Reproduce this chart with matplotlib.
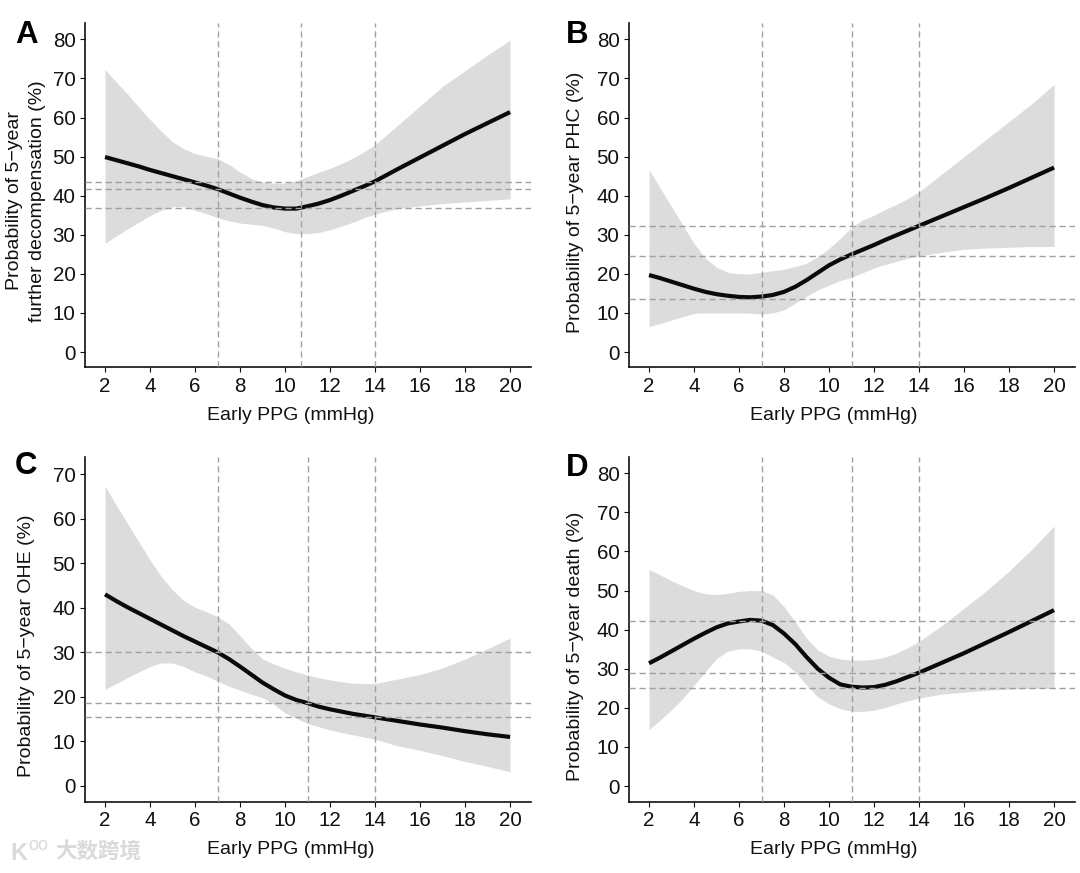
import matplotlib
matplotlib.use("Agg")
import matplotlib.pyplot as plt

plt.rcParams['font.family'] = ['Liberation Sans', 'DejaVu Sans']

x = [2, 2.5, 3, 3.5, 4, 4.5, 5, 5.5, 6, 6.5, 7, 7.5, 8, 8.5, 9, 9.5, 10, 10.5, 11, 11.5, 12, 12.5, 13, 13.5, 14,
     15, 16, 17, 18, 19, 20]
x_ticks = [2, 4, 6, 8, 10, 12, 14, 16, 18, 20]

a_line = [49.9, 49.1, 48.3, 47.5, 46.6, 45.8, 45, 44.2, 43.4, 42.6, 41.7, 40.6, 39.5, 38.5, 37.6, 37, 36.7, 36.7, 37.3, 38, 38.9, 40, 41.2, 42.4, 43.7,
          46.8, 49.8, 52.8, 55.8, 58.6, 61.4]
a_up = [72.3, 69.1, 66, 62.7, 59.5, 56.5, 53.8, 52, 50.8, 50.1, 49.5, 48, 46.1, 44.4, 43.5, 43.2, 43.2, 43.8, 44.9, 46, 47, 48.2, 49.6, 51.2, 53,
        58, 63, 68, 72, 76, 79.8]
a_lo = [27.8, 29.7, 31.5, 33.2, 34.9, 36.3, 37.2, 37.2, 36.3, 35.4, 34.4, 33.6, 33, 32.7, 32.4, 31.7, 30.8, 30.3, 30.3, 30.6, 31.3, 32.2, 33.2, 34.3, 35.3,
        36.7, 37.4, 38, 38.4, 38.8, 39.2]
a_v = [7, 10.7, 14]
a_h = [43.5, 41.8, 36.9]

b_line = [19.7, 18.9, 18, 17.1, 16.2, 15.4, 14.8, 14.4, 14.1, 14, 14.2, 14.6, 15.4, 16.7, 18.4, 20.3, 22.2, 23.7, 25, 26.2, 27.4, 28.7, 29.9, 31.1, 32.3,
          34.7, 37.1, 39.5, 42, 44.6, 47.2]
b_up = [46.7, 41.9, 37.2, 32.5, 27.8, 24, 21.7, 20.4, 20, 20, 20.4, 20.8, 21.2, 21.9, 22.7, 24.4, 26.5, 29.1, 31.9, 33.8, 35, 36.5, 37.8, 39.3, 41,
        45.5, 50, 54.5, 59, 63.5, 68.5]
b_lo = [6.5, 7.3, 8.2, 9, 9.9, 10, 10, 10, 10, 9.9, 9.7, 10, 10.8, 12.5, 14.3, 15.9, 17.1, 18.3, 19.1, 20.3, 21.5, 22.4, 23.2, 24, 24.6,
        25.5, 26.3, 26.6, 26.8, 27, 27]
b_v = [7, 11, 14]
b_h = [32.3, 24.7, 13.6]

c_line = [43, 41.5, 40.1, 38.8, 37.5, 36.2, 34.9, 33.6, 32.4, 31.2, 30, 28.5, 26.8, 25, 23.2, 21.7, 20.3, 19.3, 18.6, 17.8, 17.2, 16.7, 16.2, 15.8, 15.4,
          14.6, 13.8, 13.1, 12.3, 11.6, 11]
c_up = [67.3, 63, 58.9, 54.8, 50.7, 47, 44, 41.6, 40.1, 39.1, 38, 36.4, 33.7, 30.9, 28.5, 27.4, 26.4, 25.6, 24.9, 24.3, 23.8, 23.4, 23.1, 23, 23,
        24, 25, 26.5, 28.5, 30.8, 33.2]
c_lo = [21.7, 23, 24.3, 25.6, 26.8, 27.6, 27.6, 26.8, 25.6, 24.7, 23.5, 22.4, 21.5, 20.6, 19.8, 18.3, 16.4, 15.2, 14, 13.3, 12.6, 12, 11.5, 11, 10.5,
        9, 8, 6.8, 5.5, 4.4, 3.2]
c_v = [7, 11, 14]
c_h = [30.1, 18.7, 15.5]

d_line = [31.4, 32.9, 34.5, 36.1, 37.7, 39.2, 40.6, 41.6, 42.1, 42.5, 42.3, 41.2, 39, 36.3, 33, 30, 27.7, 26, 25.4, 25.2, 25.3, 25.9, 26.8, 27.9, 29,
          31.5, 34, 36.7, 39.4, 42.2, 45]
d_up = [55.4, 54, 52.5, 51.2, 50, 49.2, 49, 49.3, 49.8, 50, 50, 48.9, 45.9, 42, 37.8, 34.8, 33.2, 32.5, 32.2, 32.2, 32.4, 33, 34, 35.4, 37,
        41, 45.5, 50, 55, 60.5, 66.5]
d_lo = [14.4, 16.9, 19.5, 22.4, 25.8, 29.2, 32.6, 34.5, 35.1, 35.1, 34.5, 33, 31.6, 29.2, 25.8, 22.8, 21, 19.8, 19.1, 19.1, 19.4, 20.1, 21, 21.8, 22.5,
        23.5, 24, 24.5, 24.8, 25, 25]
d_v = [7, 11, 14]
d_h = [42.2, 29, 25]

W, H = 1080, 873
fig = plt.figure(figsize=(W / 100, H / 100), dpi=100)
INK = "#111111"
DASH = (0, (4.5, 2.7))

panels = [
    ("A", (85, 23, 531, 367.3), (-3.91, 84.2), range(0, 81, 10), a_line, a_up, a_lo, a_v, a_h,
     "Probability of 5\u2212year\nfurther decompensation (%)", (15, 43), 26, 201, 291, 415.5),
    ("B", (629, 23, 1075, 367.3), (-3.91, 84.2), range(0, 81, 10), b_line, b_up, b_lo, b_v, b_h,
     "Probability of 5\u2212year PHC (%)", (566, 43), 576, 202, 834, 415.5),
    ("C", (85, 457.3, 531, 801.5), (-3.48, 73.75), range(0, 71, 10), c_line, c_up, c_lo, c_v, c_h,
     "Probability of 5\u2212year OHE (%)", (15, 474), 27, 646, 291, 849.5),
    ("D", (629, 457.3, 1075, 801.5), (-3.96, 84.1), range(0, 81, 10), d_line, d_up, d_lo, d_v, d_h,
     "Probability of 5\u2212year death (%)", (566, 476.5), 576, 646, 834, 849.5),
]

for tag, (l, t, r, b), ylim, yticks, line, up, lo, vs, hs, ylabel, tagpos, ylx, yly, xlx, xly in panels:
    ax = fig.add_axes([l / W, 1 - b / H, (r - l) / W, (b - t) / H])
    ax.fill_between(x, lo, up, color="#dcdcdc", lw=0, zorder=1)
    ax.plot(x, line, color="#0a0a0a", lw=3.0, zorder=2, solid_capstyle="butt", solid_joinstyle="round")
    for v in vs:
        ax.axvline(v, color="#a0a0a0", lw=1.0, ls=DASH, zorder=3)
    for h in hs:
        ax.axhline(h, color="#a0a0a0", lw=1.0, ls=DASH, zorder=3)
    ax.set_xlim(1.11, 20.93)
    ax.set_ylim(*ylim)
    ax.set_xticks(x_ticks)
    ax.set_yticks(list(yticks))
    ax.tick_params(labelsize=14.8, length=3.6, width=0.8, pad=3.2, colors=INK)
    for s in ("top", "right"):
        ax.spines[s].set_visible(False)
    for s in ("left", "bottom"):
        ax.spines[s].set_linewidth(1.2)
        ax.spines[s].set_color(INK)
    ax.set_xlabel("Early PPG (mmHg)", fontsize=14, color=INK, va="center", ha="center")
    ax.xaxis.set_label_coords(xlx / W, 1 - xly / H, transform=fig.transFigure)
    ax.set_ylabel(ylabel, fontsize=14, color=INK, linespacing=1.4, va="center", ha="center")
    ax.yaxis.set_label_coords(ylx / W, 1 - yly / H, transform=fig.transFigure)
    fig.text(tagpos[0] / W, 1 - tagpos[1] / H, tag, fontsize=22.5, fontweight="bold",
             ha="left", va="baseline", color="black")

fig.text(55 / W, 1 - 852.5 / H, "\u5927\u6570\u8de8\u5883",
         family=["Noto Sans CJK SC", "DejaVu Sans"], fontsize=15.5, fontweight="bold", color="#dadada",
         ha="left", va="center")
fig.text(10 / W, 1 - 853 / H, "K", fontsize=17, fontweight="bold", color="#dadada", ha="left", va="center")
fig.text(28.5 / W, 1 - 845 / H, "oo", fontsize=13, color="#dadada", ha="left", va="center")

fig.savefig("out.png", dpi=100)
